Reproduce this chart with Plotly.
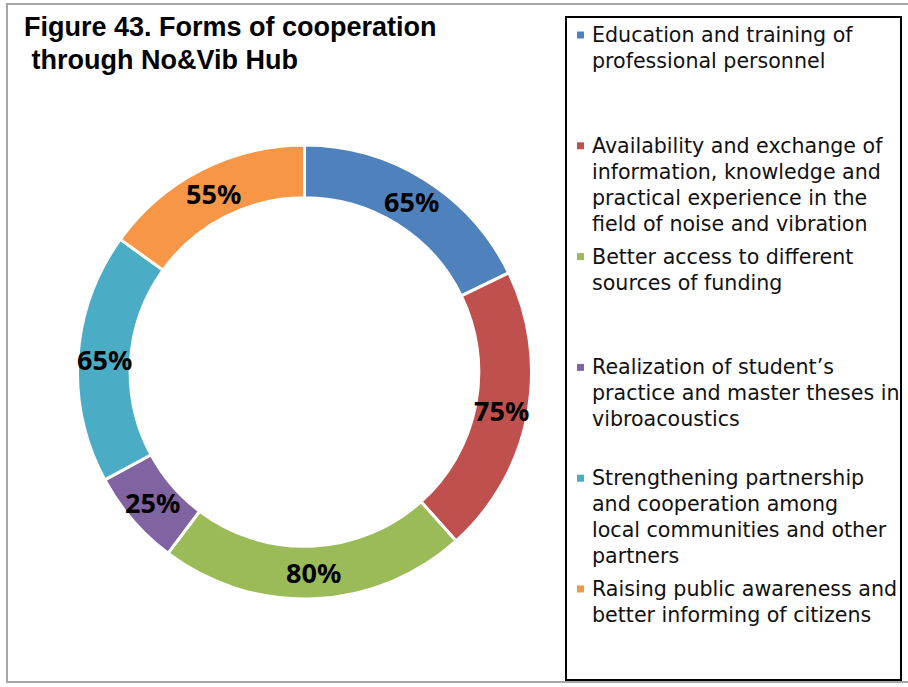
import math
import plotly.graph_objects as go

# ---- data ----
categories = [
    "Education and training of<br>professional personnel",
    "Availability and exchange of<br>information, knowledge and<br>practical experience in the<br>field of noise and vibration",
    "Better access to different<br>sources of funding",
    "Realization of student’s<br>practice and master theses in<br>vibroacoustics",
    "Strengthening partnership<br>and cooperation among<br>local communities and other<br>partners",
    "Raising public awareness and<br>better informing of citizens",
]
values = [65, 75, 80, 25, 65, 55]
colors = ["#4F81BD", "#C0504D", "#9BBB59", "#8064A2", "#4BACC6", "#F79646"]
title_lines = ["Figure 43. Forms of cooperation", " through No&Vib Hub"]

W, H = 908, 687
CX, CY, R = 304.5, 372.0, 227.0   # donut centre / outer radius (px)
HOLE = 0.768

fig = go.Figure()
fig.add_trace(go.Pie(
    labels=[c.replace("<br>", " ") for c in categories],
    values=values,
    sort=False,
    direction="clockwise",
    rotation=0,
    hole=HOLE,
    marker=dict(colors=colors, line=dict(color="white", width=3)),
    textinfo="none",
    domain=dict(x=[(CX - R) / W, (CX + R) / W],
                y=[(H - CY - R) / H, (H - CY + R) / H]),
    showlegend=False,
    hoverinfo="label+value",
))

annotations = []
shapes = []

# data labels at mid-ring, mid-angle of each slice (derived from values)
total = sum(values)
rmid = R * (1 + HOLE) / 2
cum = 0
for v in values:
    ang = (cum + v / 2) / total * 2 * math.pi
    cum += v
    px = CX + rmid * math.sin(ang)
    py = CY - rmid * math.cos(ang)
    annotations.append(dict(
        text=f"{v}%", xref="paper", yref="paper", x=px / W, y=1 - py / H,
        xanchor="center", yanchor="middle", showarrow=False,
        font=dict(family="Noto Sans", size=27, color="black", weight="bold"),
    ))

# outer gray chart frame
shapes.append(dict(type="rect", xref="paper", yref="paper",
                   x0=7 / W, x1=912 / W, y0=1 - 682 / H, y1=1 - 4 / H,
                   line=dict(color="#A6A6A6", width=2), fillcolor="rgba(0,0,0,0)", layer="below"))
# legend box
shapes.append(dict(type="rect", xref="paper", yref="paper",
                   x0=566 / W, x1=901 / W, y0=1 - 680 / H, y1=1 - 17 / H,
                   line=dict(color="black", width=2), fillcolor="rgba(0,0,0,0)"))

# title
for i, t in enumerate(title_lines):
    annotations.append(dict(
        text=t.replace(" ", "&nbsp;", 1) if t.startswith(" ") else t,
        xref="paper", yref="paper", x=22 / W, y=1 - (27 + 33 * i) / H,
        xanchor="left", yanchor="middle", showarrow=False,
        font=dict(family="Liberation Sans", size=27, color="black", weight="bold"),
    ))

# custom legend (symbol aligned to first line, fixed spacing per entry)
entry_step = 110.8
line_step = 26
for k, (lab, col) in enumerate(zip(categories, colors)):
    y0 = 35 + entry_step * k
    shapes.append(dict(type="rect", xref="paper", yref="paper",
                       x0=577 / W, x1=584 / W, y0=1 - (y0 + 3.5) / H, y1=1 - (y0 - 3.5) / H,
                       line=dict(width=0), fillcolor=col))
    for j, ln in enumerate(lab.split("<br>")):
        annotations.append(dict(
            text=ln, xref="paper", yref="paper", x=590 / W, y=1 - (y0 + line_step * j) / H,
            xanchor="left", yanchor="middle", showarrow=False,
            font=dict(family="DejaVu Sans", size=20.6, color="#111111"),
        ))

fig.update_layout(
    width=W, height=H,
    margin=dict(l=0, r=0, t=0, b=0),
    paper_bgcolor="white", plot_bgcolor="white",
    annotations=annotations, shapes=shapes,
)

fig.write_html("out.html", config={"displayModeBar": False},
               post_script="document.body.style.margin='0';")
